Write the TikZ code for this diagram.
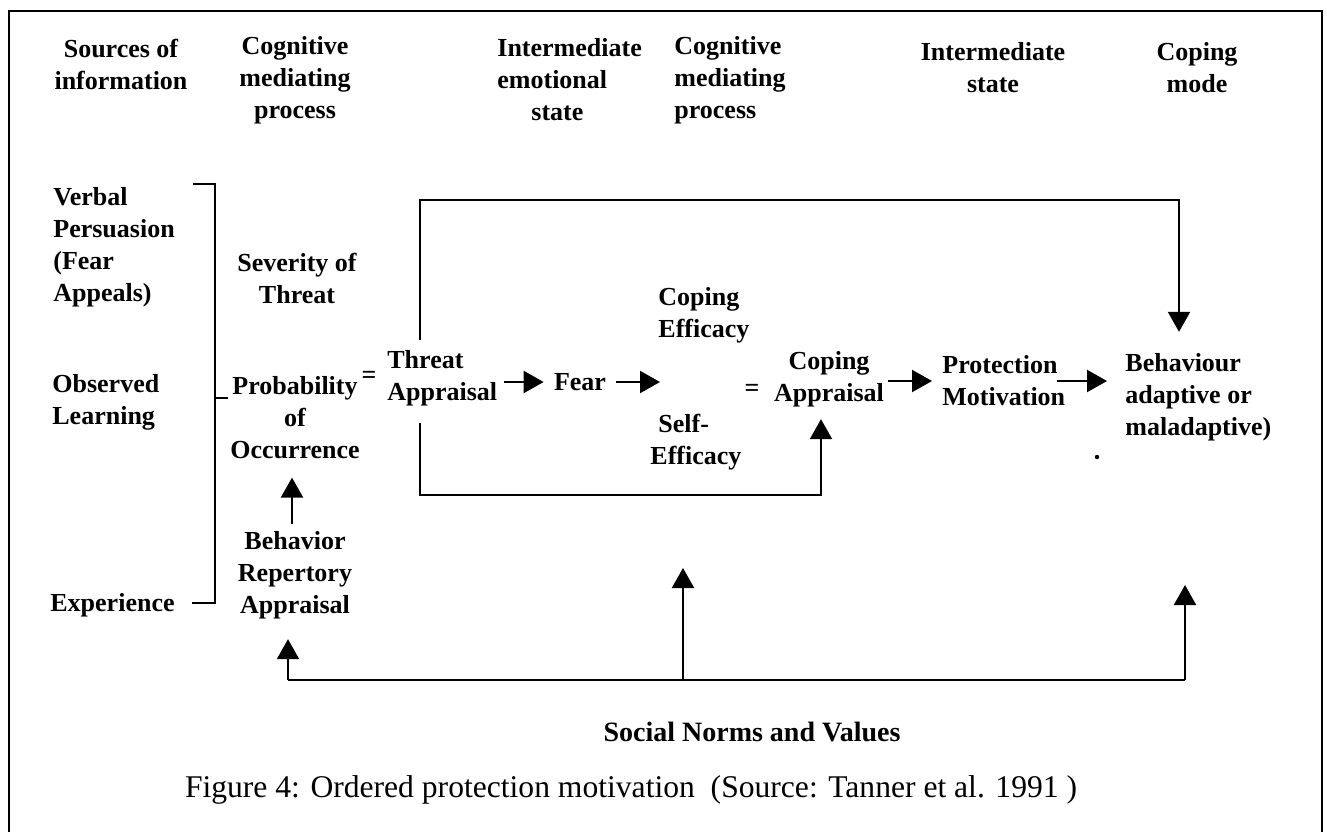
\documentclass[tikz,border=0pt]{standalone}
\usepackage{fontspec}
\setmainfont{Liberation Serif}
\usetikzlibrary{arrows.meta,calc}

\begin{document}
\begin{tikzpicture}[x=0.5pt,y=-0.5pt,
  lbl/.style={font=\bfseries\fontsize{13}{16}\selectfont, inner sep=0pt, align=center},
  lbll/.style={lbl, align=left, anchor=west},
  link/.style={line width=1.1pt},
  arr/.style={link, -{Triangle[length=10pt,width=11pt]}},
  frame/.style={line width=1.4pt}
]
\useasboundingbox (0,0) rectangle (1327,831);

% outer frame (open at the foot of the page)
\draw[frame] (9,845) -- (9,11) -- (1322,11) -- (1322,845);

% column headings
\node[lbl]  (h1) at (121,64)  {Sources of\\information};
\node[lbl]  (h2) at (295,80)  {Cognitive\\mediating\\process};
\node[lbll] (h3) at (497,80)  {Intermediate\\emotional\\\hspace*{17pt}state};
\node[lbll] (h4) at (674,80)  {Cognitive\\mediating\\process};
\node[lbl]  (h5) at (993,68)  {Intermediate\\state};
\node[lbl]  (h6) at (1197,68) {Coping\\mode};

% sources of information
\node[lbll] (vp)  at (53,247)  {Verbal\\Persuasion\\(Fear\\Appeals)};
\node[lbll] (ol)  at (52,402)  {Observed\\Learning};
\node[lbll] (exp) at (50,605)  {Experience};

% cognitive mediating process (threat side)
\node[lbl] (st)  at (297,278) {Severity of\\Threat};
\node[lbl] (po)  at (295,418) {Probability\\of\\Occurrence};
\node[lbl] (eq1) at (369,377) {=};
\node[lbl] (bra) at (295,575) {Behavior\\Repertory\\Appraisal};
\node[lbll] (ta) at (387,378) {Threat\\Appraisal};

% emotional state and coping side
\node[lbl]  (fear) at (580,382) {Fear};
\node[lbll] (ce)   at (658,315) {Coping\\Efficacy};
\node[lbl]  (eq2)  at (752,390) {=};
\node[lbll] (se)   at (650,442) {\hspace*{4pt}Self-\\Efficacy};
\node[lbl]  (ca)   at (829,379) {Coping\\Appraisal};
\node[lbll] (pm)   at (942,381) {Protection\\Motivation};
\node[lbll] (beh)  at (1125,397) {Behaviour\\adaptive or\\maladaptive)};

% social norms and caption
\node[lbl, font=\bfseries\fontsize{14}{17}\selectfont] (sn) at (752,732) {Social Norms and Values};
\node[inner sep=0pt, font=\fontsize{15.8}{18}\selectfont] (cap) at (631,790)
  {Figure 4: Ordered protection motivation\ \ (Source: Tanner et al. 1991 )};

% bracket grouping the sources
\draw[link] (193,184) -- (215,184) -- (215,603) -- (192,603);
\draw[link] (215,398) -- (228,398);

% behaviour repertory feeds probability of occurrence
\draw[arr, shorten >=9pt] ([xshift=-1.5pt,yshift=3.5pt]bra.north) -- ([xshift=-1.5pt]po.south);

% main chain
\coordinate (effmid) at (660,382);
\draw[arr, shorten >=5pt] ([xshift=3pt]ta.east |- fear.west) -- (fear.west);
\draw[arr] ([xshift=5pt]fear.east) -- (effmid);
\draw[arr, shorten >=5pt] ([xshift=2pt]ca.east |- pm.west) -- (pm.west);
\draw[arr, shorten >=9pt] ([xshift=-4.5pt]pm.east) -- (pm.east -| beh.west);

% threat appraisal loops
\coordinate (tl) at (420,340);
\coordinate (tr) at (1179,200);
\draw[arr, shorten >=10.5pt] (tl) |- (tr) -- (tr |- beh.north);
\coordinate (bl) at (420,423);
\coordinate (br) at (821,495);
\draw[arr, shorten >=6pt] (bl) |- (br) -- (br |- ca.south);

% social norms and values
\coordinate (sl) at (288,680);
\coordinate (sm) at (683,680);
\coordinate (sr) at (1185,680);
\coordinate (smtip) at (683,568);
\coordinate (srtip) at (1185,585);
\draw[link] (sl) -- (sr);
\draw[arr, shorten >=10pt] (sl) -- (sl |- bra.south);
\draw[arr] (sm) -- (smtip);
\draw[arr] (sr) -- (srtip);

% stray mark
\fill (1097,457) circle (1.1pt);
\end{tikzpicture}
\end{document}
